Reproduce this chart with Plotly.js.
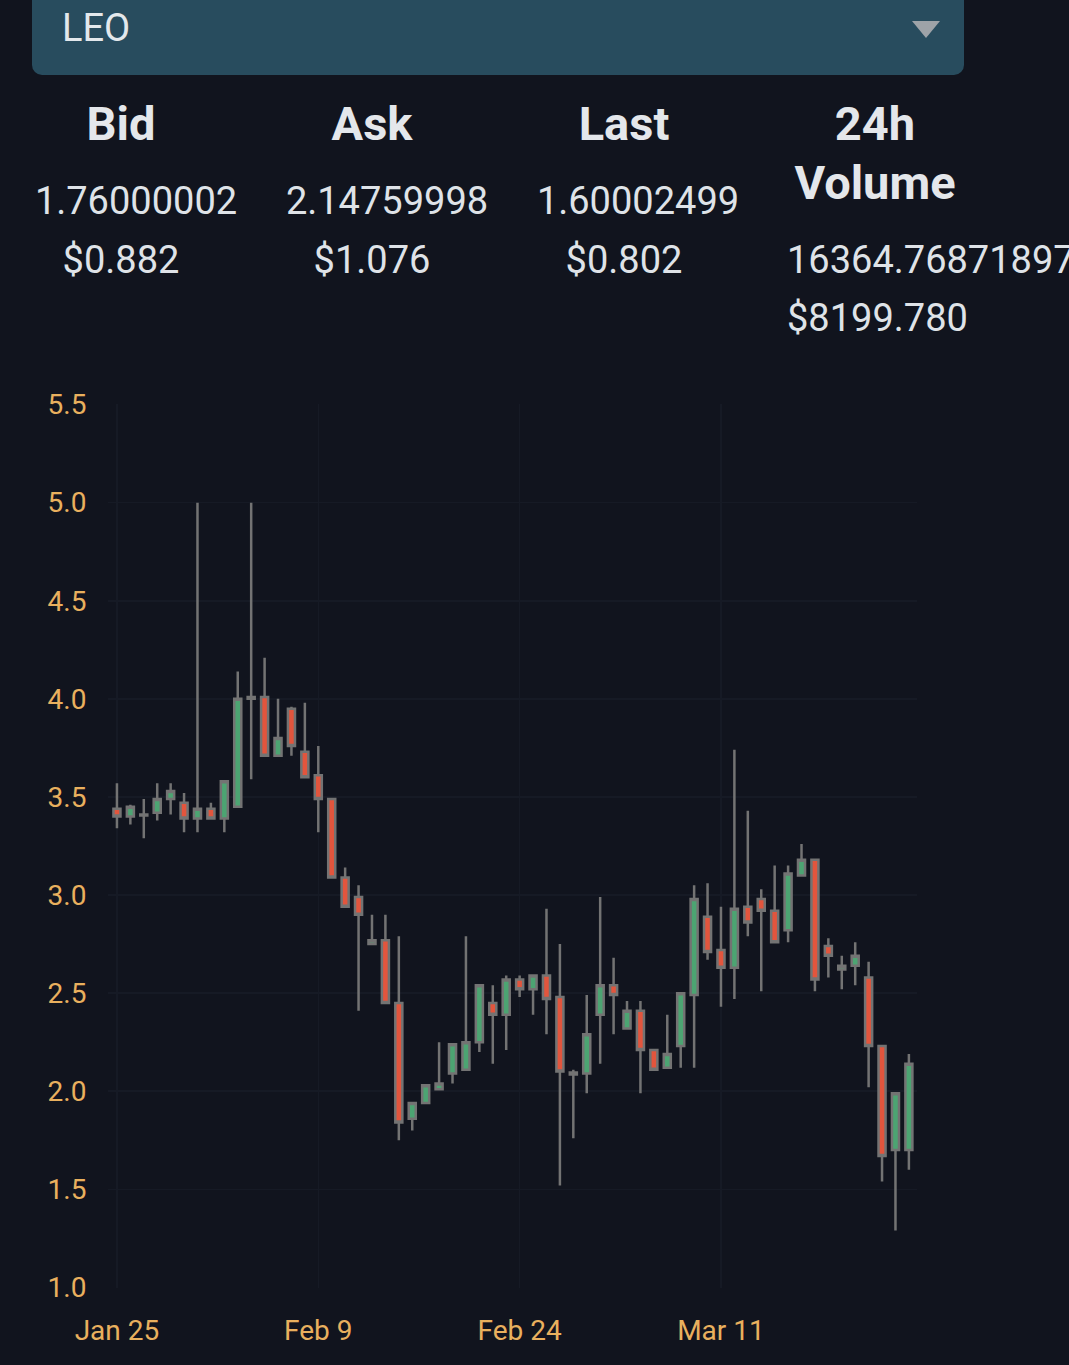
<!DOCTYPE html>
<html>
<head>
<meta charset="utf-8">
<script src="https://cdn.plot.ly/plotly-3.0.1.min.js"></script>
<style>
  html, body { margin:0; padding:0; background:#11141e; width:1069px; height:1365px; overflow:hidden; }
  #chart { position:absolute; left:0; top:0; width:1069px; height:1365px; }
  .hdr { position:absolute; font-family: Roboto, "Noto Sans", sans-serif; color:#e4e7eb; white-space:nowrap; pointer-events:none; }
  .c { transform: translateX(-50%); text-align:center; }
  .h { font-weight:700; font-size:47px; line-height:47px; }
  .v { font-weight:400; font-size:38px; line-height:38px; color:#dfe3e8; }
  #dd { position:absolute; left:32px; top:-12px; width:932px; height:87px; background:#284c5e; border-radius:10px; }
  #leo { position:absolute; left:62px; top:9px; font-family: Roboto, sans-serif; font-size:38px; line-height:38px; color:#e3e8ec; }
  #tri { position:absolute; left:912px; top:21px; width:0; height:0; border-left:14.5px solid transparent; border-right:14.5px solid transparent; border-top:17px solid #9ea3a8; }
</style>
</head>
<body>
<div id="chart"></div>
<div id="dd"></div>
<div id="leo">LEO</div>
<div id="tri"></div>

<div class="hdr c h" style="left:121px; top:100px;">Bid</div>
<div class="hdr c h" style="left:372px; top:100px;">Ask</div>
<div class="hdr c h" style="left:624px; top:100px;">Last</div>
<div class="hdr c h" style="left:875px; top:100px;">24h</div>
<div class="hdr c h" style="left:875px; top:159px;">Volume</div>

<div class="hdr c v" style="left:136px; top:182px;">1.76000002</div>
<div class="hdr c v" style="left:387px; top:182px;">2.14759998</div>
<div class="hdr c v" style="left:638px; top:182px;">1.60002499</div>
<div class="hdr c v" style="left:121px; top:241px;">$0.882</div>
<div class="hdr c v" style="left:372px; top:241px;">$1.076</div>
<div class="hdr c v" style="left:624px; top:241px;">$0.802</div>
<div class="hdr v" style="left:787px; top:241px;">16364.76871897</div>
<div class="hdr v" style="left:787px; top:299px;">$8199.780</div>

<script>
const dates = [
  '2021-01-25','2021-01-26','2021-01-27','2021-01-28','2021-01-29','2021-01-30','2021-01-31',
  '2021-02-01','2021-02-02','2021-02-03','2021-02-04','2021-02-05','2021-02-06','2021-02-07',
  '2021-02-08','2021-02-09','2021-02-10','2021-02-11','2021-02-12','2021-02-13','2021-02-14',
  '2021-02-15','2021-02-16','2021-02-17','2021-02-18','2021-02-19','2021-02-20','2021-02-21',
  '2021-02-22','2021-02-23','2021-02-24','2021-02-25','2021-02-26','2021-02-27','2021-02-28',
  '2021-03-01','2021-03-02','2021-03-03','2021-03-04','2021-03-05','2021-03-06','2021-03-07',
  '2021-03-08','2021-03-09','2021-03-10','2021-03-11','2021-03-12','2021-03-13','2021-03-14',
  '2021-03-15','2021-03-16','2021-03-17','2021-03-18','2021-03-19','2021-03-20','2021-03-21',
  '2021-03-22','2021-03-23','2021-03-24','2021-03-25'
];
const openVals = [
  3.44,3.40,3.405,3.42,3.49,3.47,3.39,
  3.44,3.39,3.45,4.00,4.01,3.71,3.95,
  3.73,3.61,3.49,3.09,2.99,2.75,2.77,
  2.45,1.86,1.94,2.01,2.09,2.11,2.25,
  2.45,2.39,2.57,2.52,2.59,2.48,2.085,
  2.09,2.39,2.54,2.32,2.41,2.21,2.12,
  2.23,2.49,2.89,2.72,2.63,2.94,2.98,
  2.92,2.82,3.10,3.18,2.74,2.62,2.64,
  2.58,2.23,1.70,1.70
];
const highVals = [
  3.57,3.46,3.49,3.57,3.57,3.52,5.00,
  3.47,3.58,4.14,5.00,4.21,4.00,3.96,
  3.98,3.76,3.49,3.14,3.05,2.90,2.90,
  2.79,1.94,2.03,2.25,2.24,2.79,2.54,
  2.54,2.59,2.59,2.59,2.93,2.75,2.11,
  2.49,2.99,2.68,2.46,2.46,2.21,2.39,
  2.50,3.05,3.06,2.94,3.74,3.43,3.03,
  3.15,3.15,3.26,3.18,2.78,2.69,2.76,
  2.66,2.23,1.99,2.19
];
const lowVals = [
  3.34,3.36,3.29,3.38,3.41,3.32,3.32,
  3.39,3.32,3.45,3.59,3.71,3.71,3.71,
  3.60,3.32,3.09,2.94,2.41,2.75,2.45,
  1.75,1.80,1.94,2.01,2.04,2.11,2.20,
  2.14,2.21,2.48,2.39,2.29,1.52,1.76,
  1.99,2.14,2.29,2.32,1.99,2.11,2.12,
  2.12,2.12,2.67,2.43,2.47,2.79,2.51,
  2.76,2.76,3.10,2.51,2.58,2.52,2.54,
  2.02,1.54,1.29,1.60
];
const closeVals = [
  3.40,3.45,3.41,3.49,3.53,3.39,3.44,
  3.39,3.58,4.00,4.01,3.71,3.80,3.76,
  3.60,3.49,3.09,2.94,2.90,2.77,2.45,
  1.84,1.94,2.03,2.04,2.24,2.25,2.54,
  2.39,2.57,2.52,2.59,2.47,2.10,2.095,
  2.29,2.54,2.49,2.41,2.21,2.11,2.19,
  2.50,2.98,2.71,2.63,2.93,2.86,2.92,
  2.76,3.11,3.18,2.57,2.69,2.64,2.69,
  2.23,1.67,1.99,2.14
];
const xTickVals = ['2021-01-25','2021-02-09','2021-02-24','2021-03-11'];
const xTickText = ['Jan 25','Feb 9','Feb 24','Mar 11'];

const bg = '#11141e';
const grid = '#161a25';
const tickColor = '#e9b05e';
const wick = '#737373';

const trace = {
  type: 'candlestick',
  x: dates, open: openVals, high: highVals, low: lowVals, close: closeVals,
  increasing: { line: { color: wick, width: 2.5 }, fillcolor: '#4ca472' },
  decreasing: { line: { color: wick, width: 2.5 }, fillcolor: '#e2553d' },
  whiskerwidth: 0,
  hoverinfo: 'skip',
  showlegend: false
};

const layout = {
  width: 1069, height: 1365,
  paper_bgcolor: bg, plot_bgcolor: bg,
  margin: { l: 108, r: 152, t: 404, b: 77, pad: 0 },
  showlegend: false,
  boxgap: 0.25,
  font: { family: 'Roboto, sans-serif', color: tickColor },
  xaxis: {
    type: 'date',
    range: ['2021-01-24 08:00', '2021-03-25 14:30'],
    tickvals: xTickVals, ticktext: xTickText,
    showgrid: true, gridcolor: grid, gridwidth: 1.5,
    zeroline: false, showline: false,
    ticks: 'outside', ticklen: 17, tickcolor: 'rgba(0,0,0,0)',
    tickfont: { family: 'Roboto, sans-serif', size: 28, color: tickColor },
    rangeslider: { visible: false },
    fixedrange: true
  },
  yaxis: {
    range: [0.997, 5.503],
    tick0: 1, dtick: 0.5, tickformat: '.1f',
    showgrid: true, gridcolor: grid, gridwidth: 1.5,
    zeroline: false, showline: false,
    ticks: 'outside', ticklen: 15, tickcolor: 'rgba(0,0,0,0)',
    tickfont: { family: 'Roboto, sans-serif', size: 28, color: tickColor },
    fixedrange: true
  }
};

Plotly.newPlot('chart', [trace], layout, { staticPlot: true, displayModeBar: false });
</script>
</body>
</html>
